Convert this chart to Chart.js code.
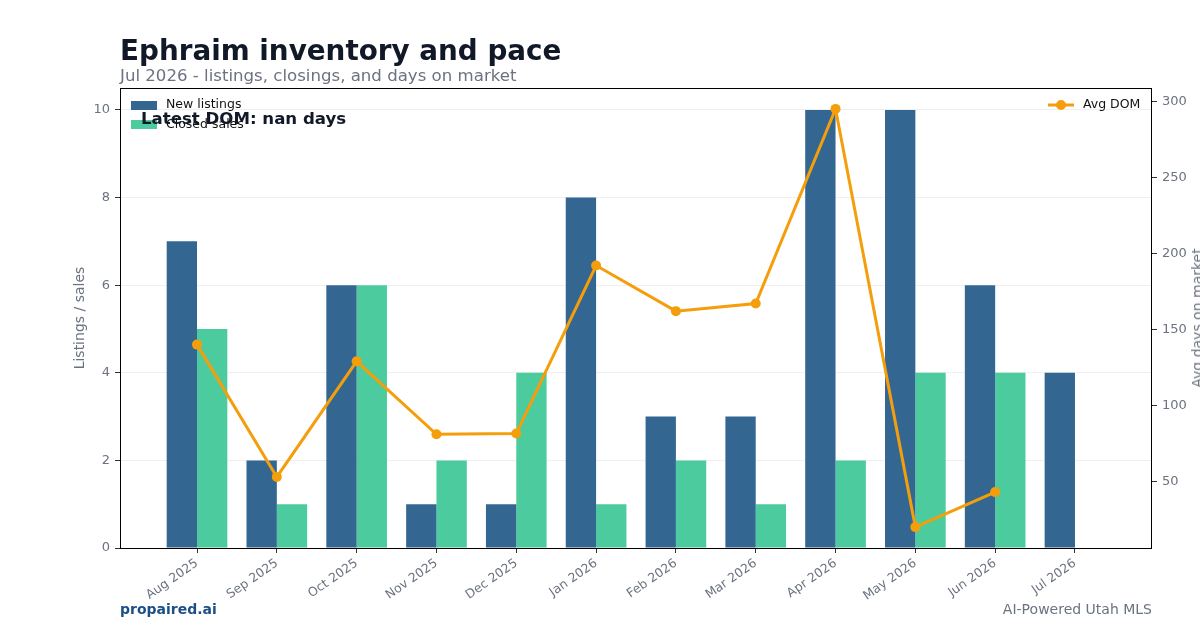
<!DOCTYPE html>
<html>
<head>
<meta charset="utf-8">
<script src="https://cdn.jsdelivr.net/npm/chart.js@4.4.1/dist/chart.umd.min.js"></script>
<style>
  body { margin: 0; background: #fff; font-family: "DejaVu Sans", sans-serif; }
  #wrap { position: relative; width: 1200px; height: 630px; overflow: hidden; }
  #chart { position: absolute; left: 0; top: 0; }
  .txt { position: absolute; white-space: nowrap; line-height: 1; }
</style>
</head>
<body>
<div id="wrap">
  <canvas id="chart" width="1200" height="630"></canvas>
  <div class="txt" style="left:120px; top:37px; font-size:27.8px; font-weight:bold; color:#111827;">Ephraim inventory and pace</div>
  <div class="txt" style="left:120px; top:68px; font-size:16.6px; color:#6b7280;">Jul 2026 - listings, closings, and days on market</div>
  <div class="txt" style="left:1197px; top:318px; font-size:14px; color:#6b7280; transform:translate(-50%,-50%) rotate(-90deg);">Avg days on market</div>
  <div class="txt" style="left:120px; top:602px; font-size:14px; font-weight:bold; color:#1d4f87;">propaired.ai</div>
  <div class="txt" style="right:48px; top:602px; font-size:14px; color:#6b7280;">AI-Powered Utah MLS</div>
</div>
<script>
const months = ['Aug 2025', 'Sep 2025', 'Oct 2025', 'Nov 2025', 'Dec 2025', 'Jan 2026',
  'Feb 2026', 'Mar 2026', 'Apr 2026', 'May 2026', 'Jun 2026', 'Jul 2026'];
const newListings = [7, 2, 6, 1, 1, 8, 3, 3, 10, 10, 6, 4];
const closedSales = [5, 1, 6, 2, 4, 1, 2, 1, 2, 4, 4, 0];
const avgDom = [140, 53, 129, 81, 81.5, 192, 162, 167, 295, 20, 43, null];
const leftTicks = [0, 2, 4, 6, 8, 10];
const rightTicks = [50, 100, 150, 200, 250, 300];

const blue = '#336792';
const green = '#4bcb9e';
const orange = '#f59e0b';
const tickGray = '#6b7280';

const toPoints = arr => arr.map((v, i) => ({ x: i, y: v })).filter(p => p.y !== null);

// frame, legends and the DOM note, matplotlib style
const extras = {
  id: 'extras',
  afterDraw(chart) {
    const ctx = chart.ctx;
    const a = chart.chartArea;
    ctx.save();
    ctx.strokeStyle = '#000';
    ctx.lineWidth = 1;
    ctx.strokeRect(a.left + 0.5, a.top + 0.5, a.right - a.left - 1, a.bottom - a.top);

    ctx.font = '12.5px "DejaVu Sans"';
    ctx.textBaseline = 'middle';
    ctx.textAlign = 'left';
    ctx.fillStyle = blue;
    ctx.fillRect(a.left + 11, a.top + 13, 26, 9);
    ctx.fillStyle = '#111';
    ctx.fillText('New listings', a.left + 46, a.top + 17);
    ctx.fillStyle = green;
    ctx.fillRect(a.left + 11, a.top + 32, 26, 9);
    ctx.fillStyle = '#111';
    ctx.fillText('Closed sales', a.left + 46, a.top + 37);

    const lx = a.right - 104, ly = a.top + 17;
    ctx.strokeStyle = orange;
    ctx.lineWidth = 3;
    ctx.beginPath();
    ctx.moveTo(lx, ly);
    ctx.lineTo(lx + 26, ly);
    ctx.stroke();
    ctx.fillStyle = orange;
    ctx.beginPath();
    ctx.arc(lx + 13, ly, 5, 0, Math.PI * 2);
    ctx.fill();
    ctx.fillStyle = '#111';
    ctx.fillText('Avg DOM', lx + 35, ly);

    ctx.font = 'bold 16.6px "DejaVu Sans"';
    ctx.fillStyle = '#111827';
    ctx.fillText('Latest DOM: nan days', a.left + 21, a.top + 32);
    ctx.restore();
  }
};

new Chart(document.getElementById('chart'), {
  type: 'bar',
  data: {
    datasets: [
      {
        label: 'Avg DOM',
        type: 'line',
        data: toPoints(avgDom),
        yAxisID: 'y2',
        borderColor: orange,
        backgroundColor: orange,
        borderWidth: 3,
        pointRadius: 5,
        pointBackgroundColor: orange,
        pointBorderWidth: 0,
        tension: 0,
        order: 0
      },
      {
        label: 'New listings',
        data: toPoints(newListings),
        yAxisID: 'y',
        backgroundColor: blue,
        categoryPercentage: 0.76,
        barPercentage: 1,
        order: 2
      },
      {
        label: 'Closed sales',
        data: toPoints(closedSales),
        yAxisID: 'y',
        backgroundColor: green,
        categoryPercentage: 0.76,
        barPercentage: 1,
        order: 2
      }
    ]
  },
  options: {
    responsive: false,
    animation: false,
    layout: { padding: { top: 88, left: 0, right: 0, bottom: 0 } },
    plugins: {
      legend: { display: false },
      tooltip: { enabled: false }
    },
    scales: {
      x: {
        type: 'linear',
        min: -0.965,
        max: 11.965,
        offset: false,
        afterBuildTicks: s => { s.ticks = months.map((m, i) => ({ value: i })); },
        ticks: {
          callback: v => months[v],
          minRotation: 35,
          maxRotation: 35,
          autoSkip: false,
          color: tickGray,
          font: { family: 'DejaVu Sans', size: 12.5 },
          padding: 3
        },
        grid: { drawOnChartArea: false, drawTicks: true, tickLength: 5, tickColor: '#333', offset: false },
        border: { display: false },
        afterFit: s => { s.height = 82; s.paddingLeft = 0; s.paddingRight = 0; }
      },
      y: {
        position: 'left',
        min: 0,
        max: 10.5,
        z: 1,
        afterBuildTicks: s => { s.ticks = leftTicks.map(v => ({ value: v })); },
        ticks: { color: tickGray, font: { family: 'DejaVu Sans', size: 13 }, padding: 5 },
        grid: { color: 'rgba(225,228,232,0.6)', lineWidth: 1, tickLength: 5, tickColor: '#333' },
        border: { display: false },
        title: {
          display: true,
          text: 'Listings / sales',
          color: tickGray,
          font: { family: 'DejaVu Sans', size: 14 },
          padding: { top: 72, bottom: 0 }
        },
        afterFit: s => { s.width = 120; s.paddingTop = 0; s.paddingBottom = 0; }
      },
      y2: {
        position: 'right',
        min: 6.25,
        max: 308.75,
        afterBuildTicks: s => { s.ticks = rightTicks.map(v => ({ value: v })); },
        ticks: { color: tickGray, font: { family: 'DejaVu Sans', size: 13 }, padding: 5 },
        grid: { drawOnChartArea: false, tickLength: 5, tickColor: '#333' },
        border: { display: false },
        afterFit: s => { s.width = 48; s.paddingTop = 0; s.paddingBottom = 0; }
      }
    }
  },
  plugins: [extras]
});
</script>
</body>
</html>
